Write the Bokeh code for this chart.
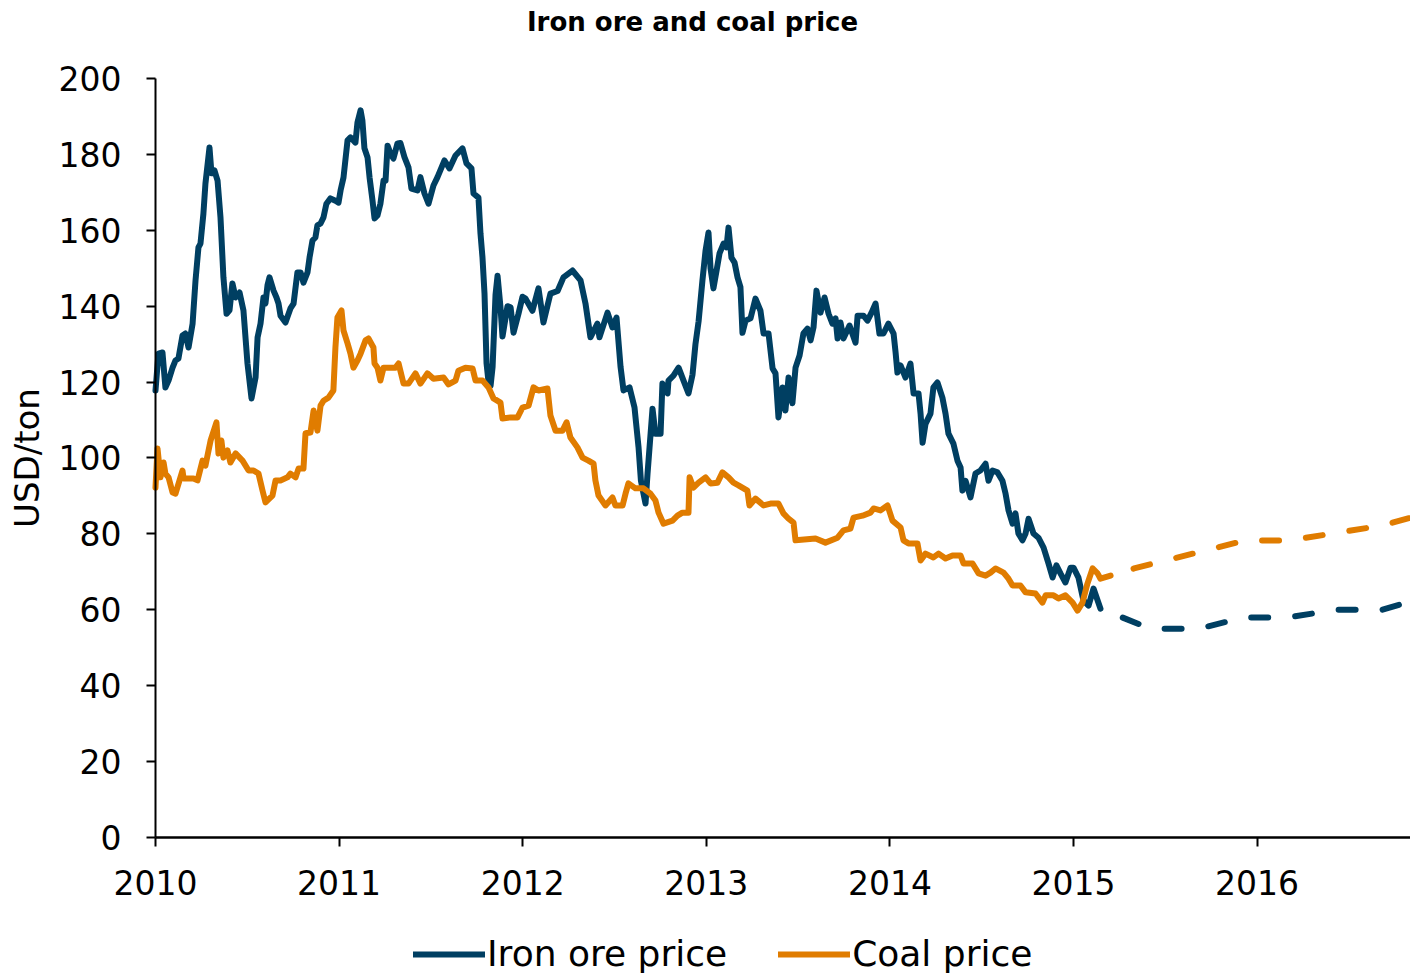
from bokeh.plotting import figure
from bokeh.models import (Range1d, FixedTicker, Legend, LegendItem, Label)
from bokeh.embed import file_html
from bokeh.resources import INLINE

# ---------------- data (decimal years, USD/ton) ----------------
iron_date = [2010.000, 2010.016, 2010.038, 2010.054, 2010.071, 2010.093, 2010.109, 2010.125, 2010.147, 2010.163,
             2010.180, 2010.202, 2010.218, 2010.234, 2010.245, 2010.261, 2010.272, 2010.294, 2010.305, 2010.321,
             2010.338, 2010.354, 2010.370, 2010.387, 2010.403, 2010.419, 2010.436, 2010.458, 2010.479, 2010.501,
             2010.523, 2010.545, 2010.556, 2010.572, 2010.588, 2010.599, 2010.610, 2010.621, 2010.643, 2010.659,
             2010.670, 2010.681, 2010.708, 2010.735, 2010.752, 2010.773, 2010.790, 2010.806, 2010.828, 2010.839,
             2010.855, 2010.871, 2010.882, 2010.899, 2010.915, 2010.931, 2010.953, 2010.980, 2010.997, 2011.008,
             2011.024, 2011.046, 2011.062, 2011.089, 2011.100, 2011.117, 2011.127, 2011.138, 2011.155, 2011.166,
             2011.182, 2011.193, 2011.209, 2011.225, 2011.242, 2011.253, 2011.264, 2011.280, 2011.296, 2011.318,
             2011.334, 2011.356, 2011.378, 2011.394, 2011.427, 2011.443, 2011.465, 2011.487, 2011.514, 2011.536,
             2011.574, 2011.601, 2011.634, 2011.672, 2011.694, 2011.721, 2011.732, 2011.759, 2011.770, 2011.781,
             2011.792, 2011.803, 2011.814, 2011.825, 2011.836, 2011.852, 2011.863, 2011.879, 2011.890, 2011.917,
             2011.934, 2011.950, 2011.977, 2011.999, 2012.015, 2012.053, 2012.086, 2012.113, 2012.151, 2012.190,
             2012.222, 2012.271, 2012.315, 2012.342, 2012.369, 2012.407, 2012.418, 2012.462, 2012.489, 2012.511,
             2012.533, 2012.549, 2012.582, 2012.609, 2012.631, 2012.644, 2012.658, 2012.669, 2012.680, 2012.707,
             2012.723, 2012.751, 2012.761, 2012.789, 2012.794, 2012.821, 2012.849, 2012.876, 2012.903, 2012.925,
             2012.941, 2012.958, 2012.979, 2012.996, 2013.012, 2013.023, 2013.039, 2013.056, 2013.072, 2013.094,
             2013.110, 2013.121, 2013.137, 2013.154, 2013.170, 2013.186, 2013.197, 2013.214, 2013.241, 2013.268,
             2013.295, 2013.312, 2013.339, 2013.361, 2013.377, 2013.393, 2013.415, 2013.431, 2013.448, 2013.469,
             2013.486, 2013.508, 2013.529, 2013.551, 2013.568, 2013.584, 2013.600, 2013.622, 2013.644, 2013.666,
             2013.687, 2013.704, 2013.715, 2013.731, 2013.747, 2013.780, 2013.813, 2013.824, 2013.856, 2013.878,
             2013.900, 2013.922, 2013.943, 2013.965, 2013.992, 2014.020, 2014.031, 2014.041, 2014.058, 2014.085,
             2014.112, 2014.129, 2014.156, 2014.167, 2014.178, 2014.194, 2014.221, 2014.237, 2014.259, 2014.286,
             2014.303, 2014.319, 2014.346, 2014.368, 2014.385, 2014.395, 2014.412, 2014.439, 2014.466, 2014.493,
             2014.521, 2014.537, 2014.559, 2014.586, 2014.613, 2014.630, 2014.646, 2014.668, 2014.684, 2014.700,
             2014.722, 2014.739, 2014.755, 2014.782, 2014.809, 2014.837, 2014.864, 2014.886, 2014.907, 2014.929,
             2014.956, 2014.984, 2015.000, 2015.027, 2015.054, 2015.082, 2015.109, 2015.147]
iron_price = [117.8, 127.5, 127.8, 118.6, 120.4, 123.8, 125.7, 126.2, 132.3, 132.8,
              129.1, 135.4, 146.8, 155.5, 156.5, 164.4, 172.3, 181.8, 175.0, 175.8,
              173.1, 163.4, 147.6, 138.0, 138.9, 146.0, 142.3, 143.6, 138.9, 124.9,
              115.7, 121.2, 131.8, 135.4, 142.3, 140.7, 145.5, 147.6, 144.1, 142.3,
              140.7, 137.5, 135.7, 139.4, 140.7, 148.9, 148.9, 146.2, 148.9, 152.8,
              157.3, 158.1, 161.3, 161.8, 163.4, 167.0, 168.4, 167.8, 167.3, 170.5,
              173.9, 183.7, 184.5, 183.1, 188.4, 191.6, 188.9, 181.6, 179.2, 173.9,
              167.8, 163.1, 163.9, 167.0, 173.1, 173.1, 182.3, 180.2, 178.9, 182.9,
              183.0, 179.3, 176.6, 171.0, 170.5, 174.0, 169.7, 167.0, 171.8, 174.0,
              178.4, 176.3, 179.7, 181.6, 177.6, 176.3, 169.7, 168.6, 159.2, 152.8,
              143.3, 125.0, 120.0, 119.0, 124.0, 143.0, 148.0, 139.7, 132.0, 140.0,
              139.7, 133.0, 138.0, 142.5, 142.0, 138.8, 144.7, 135.7, 143.3, 144.0,
              147.6, 149.4, 146.8, 140.7, 131.8, 135.4, 131.8, 138.3, 134.4, 137.0,
              124.0, 117.8, 118.6, 113.3, 102.8, 94.0, 90.6, 88.0, 95.9, 113.0,
              106.4, 106.4, 119.6, 117.0, 120.4, 121.7, 123.8, 120.4, 117.0, 122.0,
              130.0, 136.0, 146.8, 154.7, 159.4, 150.0, 144.7, 149.4, 153.9, 156.5,
              155.5, 160.7, 152.8, 151.5, 147.6, 145.0, 133.0, 136.2, 136.8, 142.0,
              138.8, 132.8, 132.8, 123.6, 122.3, 110.7, 118.6, 112.5, 121.2, 114.4,
              123.8, 127.0, 132.8, 134.1, 131.0, 134.4, 144.1, 138.3, 142.3, 138.0,
              135.4, 136.8, 131.5, 135.7, 131.5, 134.9, 130.4, 137.5, 137.5, 136.2,
              138.3, 140.7, 132.8, 132.8, 135.4, 132.8, 127.8, 122.5, 124.4, 121.2,
              124.9, 117.0, 117.0, 111.7, 104.0, 109.0, 111.7, 118.6, 119.9, 115.9,
              111.7, 106.4, 103.8, 99.3, 97.5, 91.4, 94.0, 89.6, 95.9, 96.7,
              98.5, 94.0, 96.7, 96.2, 94.0, 90.6, 86.2, 82.7, 85.4, 80.1,
              78.3, 80.1, 84.0, 80.1, 79.0, 76.4, 72.2, 68.5, 71.7, 69.6,
              67.2, 71.1, 71.1, 68.5, 62.5, 61.1, 65.6, 60.3]

coal_date = [2010.000, 2010.011, 2010.027, 2010.044, 2010.054, 2010.071, 2010.093, 2010.109, 2010.147, 2010.153,
             2010.207, 2010.229, 2010.256, 2010.272, 2010.300, 2010.332, 2010.343, 2010.359, 2010.370, 2010.392,
             2010.408, 2010.436, 2010.474, 2010.507, 2010.534, 2010.561, 2010.583, 2010.599, 2010.637, 2010.654,
             2010.681, 2010.719, 2010.735, 2010.763, 2010.779, 2010.806, 2010.817, 2010.844, 2010.861, 2010.882,
             2010.899, 2010.915, 2010.942, 2010.969, 2010.980, 2010.991, 2011.013, 2011.024, 2011.046, 2011.062,
             2011.078, 2011.100, 2011.117, 2011.144, 2011.160, 2011.187, 2011.193, 2011.209, 2011.225, 2011.242,
             2011.269, 2011.307, 2011.324, 2011.351, 2011.378, 2011.416, 2011.443, 2011.481, 2011.514, 2011.569,
             2011.596, 2011.634, 2011.650, 2011.688, 2011.727, 2011.743, 2011.781, 2011.814, 2011.841, 2011.879,
             2011.890, 2011.934, 2011.972, 2011.999, 2012.032, 2012.059, 2012.086, 2012.135, 2012.151, 2012.179,
             2012.217, 2012.239, 2012.260, 2012.298, 2012.326, 2012.358, 2012.386, 2012.396, 2012.413, 2012.451,
             2012.489, 2012.505, 2012.544, 2012.560, 2012.576, 2012.614, 2012.658, 2012.696, 2012.723, 2012.740,
             2012.767, 2012.816, 2012.843, 2012.870, 2012.903, 2012.909, 2012.930, 2012.958, 2012.996, 2013.023,
             2013.061, 2013.088, 2013.121, 2013.148, 2013.175, 2013.224, 2013.235, 2013.268, 2013.312, 2013.350,
             2013.393, 2013.420, 2013.448, 2013.475, 2013.486, 2013.595, 2013.649, 2013.715, 2013.747, 2013.785,
             2013.802, 2013.851, 2013.894, 2013.911, 2013.949, 2013.987, 2014.014, 2014.058, 2014.074, 2014.101,
             2014.150, 2014.167, 2014.194, 2014.237, 2014.265, 2014.303, 2014.341, 2014.385, 2014.401, 2014.450,
             2014.483, 2014.521, 2014.548, 2014.575, 2014.619, 2014.646, 2014.668, 2014.711, 2014.739, 2014.793,
             2014.831, 2014.848, 2014.891, 2014.918, 2014.956, 2014.995, 2015.022, 2015.049, 2015.076, 2015.104,
             2015.131, 2015.147, 2015.202]
coal_price = [92.2, 102.5, 94.9, 98.8, 95.9, 94.9, 90.9, 90.6, 96.7, 94.6,
              94.6, 94.1, 99.3, 98.0, 104.6, 109.4, 101.2, 104.6, 100.1, 102.0,
              98.8, 101.2, 99.3, 96.7, 96.7, 95.9, 91.4, 88.3, 90.1, 94.1,
              94.1, 94.9, 95.9, 94.9, 97.2, 97.2, 106.5, 106.7, 112.5, 107.2,
              113.8, 115.1, 115.9, 117.8, 129.1, 137.0, 138.9, 133.6, 130.2, 127.5,
              123.8, 125.7, 127.5, 131.0, 131.5, 129.1, 124.9, 123.8, 120.4, 123.8,
              123.8, 123.8, 124.9, 119.6, 119.6, 122.3, 119.6, 122.3, 120.9, 121.2,
              119.4, 120.4, 123.0, 123.8, 123.6, 120.4, 120.4, 118.6, 115.7, 114.6,
              110.4, 110.7, 110.7, 113.3, 113.8, 118.6, 117.8, 118.3, 111.2, 107.2,
              107.2, 109.4, 105.4, 102.8, 100.1, 99.3, 98.5, 94.1, 90.1, 87.5,
              89.6, 87.5, 87.5, 90.6, 93.3, 92.0, 92.0, 90.6, 88.8, 85.6,
              82.7, 83.5, 84.8, 85.6, 85.6, 94.9, 92.2, 93.5, 94.9, 93.3,
              93.5, 96.2, 94.9, 93.5, 92.8, 91.4, 87.5, 89.3, 87.5, 88.0,
              88.0, 85.4, 84.0, 83.0, 78.3, 78.8, 77.7, 79.0, 80.9, 81.4,
              84.3, 84.8, 85.6, 86.7, 86.2, 87.5, 83.5, 81.7, 78.3, 77.5,
              77.5, 73.0, 74.8, 73.8, 74.8, 73.5, 74.3, 74.3, 72.2, 72.2,
              69.6, 69.0, 69.8, 70.9, 69.8, 68.2, 66.4, 66.4, 64.6, 64.3,
              61.9, 63.8, 63.8, 63.0, 63.8, 61.9, 59.8, 61.9, 66.9, 70.9,
              69.6, 68.2, 69.0]

iron_fc_date = [2015.147, 2015.42, 2015.68, 2015.93, 2016.17, 2016.43, 2016.68, 2016.93]
iron_fc_price = [60.3, 55.0, 55.0, 58.0, 58.0, 60.0, 60.0, 63.5]
coal_fc_date = [2015.202, 2015.33, 2015.93, 2016.18, 2016.68, 2016.93]
coal_fc_price = [69.0, 70.9, 78.2, 78.3, 82.2, 85.5]

year_ticks = [2010, 2011, 2012, 2013, 2014, 2015, 2016]
price_ticks = [0, 20, 40, 60, 80, 100, 120, 140, 160, 180, 200]

IRON = "#003f62"
COAL = "#e07c00"
FONT = "DejaVu Sans"

W, H = 1410, 974
X0, X1 = 2009.1558, 2016.8355   # visible span: frame covers the whole canvas
Y0, Y1 = -36.1, 220.55
p = figure(width=W, height=H, output_backend="svg", toolbar_location=None,
           x_range=Range1d(X0, X1), y_range=Range1d(Y0, Y1),
           min_border_left=0, min_border_right=0, min_border_top=0, min_border_bottom=0,
           title=None)
p.outline_line_color = None
p.background_fill_color = "white"
p.border_fill_color = "white"
p.xgrid.visible = False
p.ygrid.visible = False

LW = 6
r_iron = p.line(iron_date, iron_price, line_color=IRON, line_width=LW, line_join="round", line_cap="round")
r_coal = p.line(coal_date, coal_price, line_color=COAL, line_width=LW, line_join="round", line_cap="round")
p.line(iron_fc_date, iron_fc_price, line_color=IRON, line_width=LW, line_dash="17 27",
       line_dash_offset=20, line_cap="round", line_join="round")
p.line(coal_fc_date, coal_fc_price, line_color=COAL, line_width=LW, line_dash="17 27",
       line_dash_offset=20, line_cap="round", line_join="round")

for ax in (p.xaxis[0], p.yaxis[0]):
    ax.axis_line_color = "black"
    ax.axis_line_width = 2
    ax.major_tick_line_color = "black"
    ax.major_tick_line_width = 2
    ax.major_tick_in = 0
    ax.major_tick_out = 9
    ax.minor_tick_line_color = None
    ax.major_label_text_font = FONT
    ax.major_label_text_font_size = "33px"
    ax.major_label_text_color = "black"

xa = p.xaxis[0]
xa.fixed_location = 0
xa.bounds = (year_ticks[0], X1 + 1)
xa.ticker = FixedTicker(ticks=year_ticks)
xa.major_label_overrides = {y: str(y) for y in year_ticks}
xa.major_label_standoff = 24
xa.axis_line_width = 2.5

ya = p.yaxis[0]
ya.fixed_location = year_ticks[0]
ya.bounds = (price_ticks[0], price_ticks[-1])
ya.ticker = FixedTicker(ticks=price_ticks)
ya.major_label_standoff = 25
ya.axis_label = "USD/ton"
ya.axis_label_text_font = FONT
ya.axis_label_text_font_size = "34px"
ya.axis_label_text_font_style = "normal"
ya.axis_label_text_color = "black"
ya.axis_label_standoff = 9

title = Label(x=692, y=H - 21, x_units="screen", y_units="screen",
              text="Iron ore and coal price", text_font=FONT, text_font_size="26px",
              text_font_style="bold", text_color="black", text_align="center",
              text_baseline="middle")
p.add_layout(title)

legend = Legend(items=[LegendItem(label="Iron ore price", renderers=[r_iron]),
                       LegendItem(label="Coal price", renderers=[r_coal])],
                orientation="horizontal", location=(413, 0),
                label_text_font=FONT, label_text_font_size="36px", label_text_color="black",
                glyph_width=72, glyph_height=36, label_height=36, label_standoff=2, spacing=51,
                padding=0, margin=0, border_line_color=None, background_fill_alpha=0,
                label_text_baseline="middle")
p.add_layout(legend, "center")

open("out.html", "w").write(file_html(p, INLINE))
